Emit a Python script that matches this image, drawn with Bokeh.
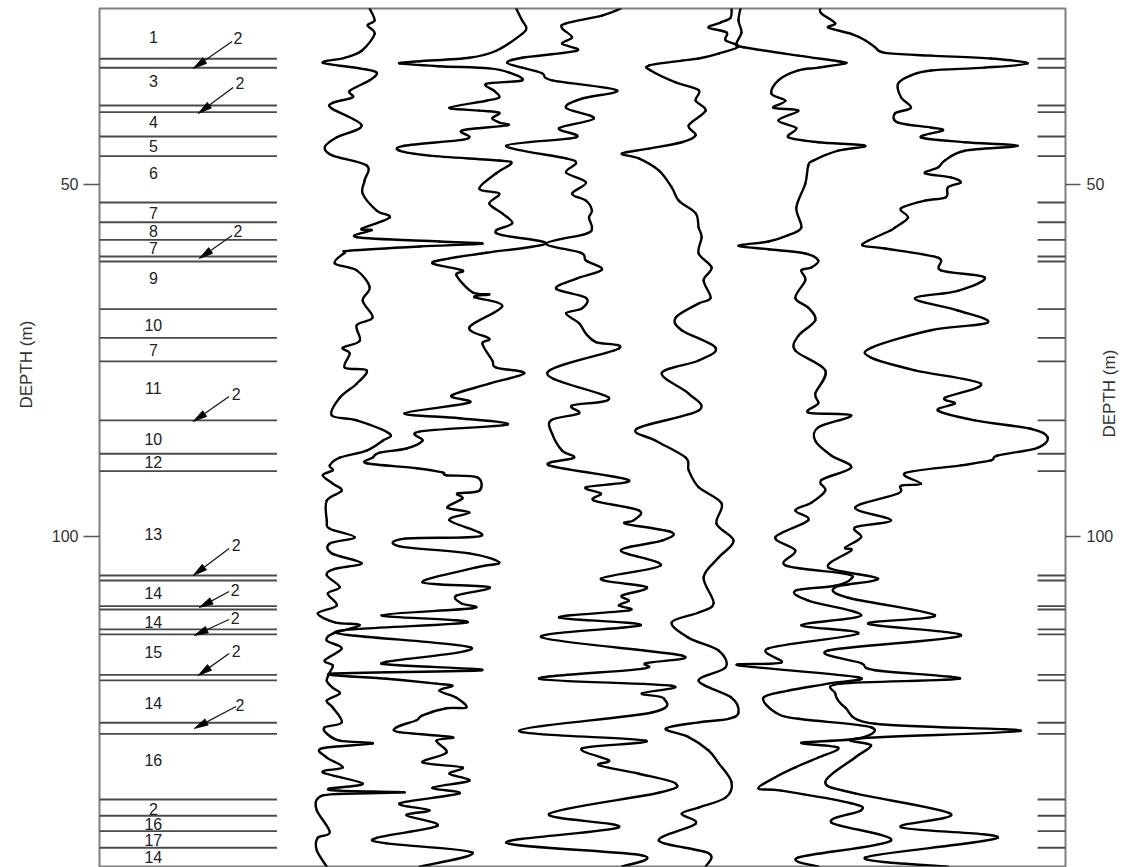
import math
from bokeh.plotting import figure
from bokeh.models import Range1d, LinearAxis, FixedTicker, Title
from bokeh.embed import file_html
from bokeh.resources import INLINE
from bokeh.core.properties import value

FONT = "Liberation Sans"

# ---------------- data ----------------
DEPTH_TOP = 25.0
DEPTH_BOTTOM = 146.88
TRACK_MIN, TRACK_MAX = 99, 1068

# log curves: (depth m, trace value)
CURVE_A = [(25.0,370),(26.7,375),(27.4,368),(28.6,375),(31.0,362),(32.0,345),(32.7,323),(33.5,360),(34.1,377),(35.2,370),
           (36.7,350),(37.6,353),(38.4,333),(39.2,332),(41.6,362),(43.3,337),(44.7,325),(45.9,333),(47.3,367),(49.4,365),
           (51.3,363),(53.7,377),(54.7,390),(56.3,362),(56.5,372),(57.5,357),(58.1,440),(58.4,483),(58.8,420),(59.4,350),
           (59.7,345),(61.2,335),(62.2,357),(64.6,370),(66.5,363),(68.9,373),(70.0,357),(72.2,360),(73.2,343),(74.0,350),
           (76.0,345),(76.4,367),(78.3,357),(80.3,340),(82.8,332),(83.5,357),(85.4,390),(86.4,383),(87.8,367),(88.8,340),
           (89.9,330),(90.6,333),(91.3,323),(92.5,333),(93.5,342),(94.9,327),(97.7,327),(98.9,330),(100.1,355),(101.0,330),
           (102.4,332),(103.8,362),(104.6,335),(105.5,327),(107.2,340),(108.1,328),(109.8,337),(110.9,318),(112.2,335),(112.6,360),
           (113.8,333),(114.8,327),(115.9,342),(117.6,325),(118.3,333),(119.3,330),(120.5,327),(121.5,333),(122.3,340),(123.3,327),
           (124.3,333),(126.4,342),(127.1,325),(128.0,327),(129.0,340),(129.4,373),(130.1,322),(131.4,327),(132.8,343),(133.5,323),
           (135.1,363),(135.8,330),(136.1,340),(136.35,405),(136.6,335),(137.2,318),(138.9,317),(142.0,330),(142.8,318),(144.6,317),
           (146.9,327)]

CURVE_B = [(25.0,517),(26.7,523),(27.7,527),(28.6,523),(31.0,497),(32.0,470),(32.5,420),(32.8,400),(33.2,440),(33.5,490),
           (34.1,510),(35.2,523),(35.7,487),(36.7,495),(37.6,500),(38.1,487),(39.1,450),(39.5,480),(39.8,500),(40.6,493),
           (41.2,500),(41.6,508),(42.3,463),(43.2,470),(43.7,460),(44.5,405),(45.2,400),(45.9,430),(46.6,500),(47.0,512),
           (48.4,497),(50.6,480),(51.3,500),(52.7,490),(54.1,503),(55.5,513),(56.5,497),(57.2,503),(58.4,547),(59.7,487),
           (60.5,450),(61.2,433),(62.2,463),(62.9,457),(65.3,473),(65.6,490),(66.0,475),(67.3,503),(70.3,470),(71.9,490),
           (72.6,483),(75.0,493),(76.0,497),(76.8,525),(78.3,490),(80.0,452),(81.0,470),(82.5,405),(83.2,460),(84.1,508),
           (85.1,420),(86.4,423),(87.5,407),(88.1,380),(88.8,373),(89.6,367),(90.3,417),(90.9,443),(91.3,447),(91.6,478),
           (93.5,480),(93.9,458),(94.6,463),(95.9,448),(96.6,470),(97.7,450),(99.9,482),(100.3,405),(101.4,400),(102.4,470),
           (103.7,500),(104.4,477),(106.5,423),(107.2,490),(108.4,457),(109.5,462),(110.2,473),(111.2,382),(112.2,468),(113.6,335),
           (115.8,472),(117.8,387),(118.3,400),(119.0,482),(119.5,331),(120.2,387),(120.9,437),(121.2,453),(121.9,440),(122.9,457),
           (124.3,467),(124.4,447),(125.4,423),(126.1,417),(127.1,397),(127.8,400),(128.5,453),(129.0,437),(130.7,447),(132.1,423),
           (132.8,463),(133.7,450),(134.7,470),(135.7,433),(136.5,460),(137.9,400),(138.9,430),(139.6,407),(141.1,438),(142.8,377),
           (143.6,387),(144.9,473),(146.9,420)]

CURVE_C = [(25.0,622),(26.0,603),(27.1,567),(27.8,563),(29.1,573),(30.0,563),(31.0,578),(32.0,523),(32.7,508),(33.4,523),
           (34.2,543),(35.2,553),(36.6,618),(37.8,583),(39.1,567),(40.6,595),(42.0,560),(43.3,577),(44.5,507),(46.3,567),
           (47.0,577),(48.3,567),(49.7,587),(51.3,573),(52.3,587),(53.7,593),(54.7,590),(56.1,593),(57.0,587),(58.4,547),
           (59.7,582),(60.8,587),(62.1,603),(63.4,577),(64.8,557),(66.1,587),(67.6,583),(68.3,567),(69.7,580),(71.2,587),
           (72.4,597),(73.3,620),(76.8,548),(80.3,610),(81.4,573),(82.5,580),(83.5,552),(85.4,553),(87.8,563),(88.8,575),
           (89.9,550),(92.0,630),(93.0,587),(93.9,602),(94.9,595),(96.3,640),(97.7,635),(98.2,627),(99.4,673),(100.6,663),
           (102.0,622),(104.1,662),(106.0,602),(107.2,648),(108.4,623),(109.1,630),(109.8,620),(110.5,630),(111.5,560),(112.6,642),
           (114.3,542),(116.9,683),(118.0,647),(118.8,643),(120.2,540),(121.2,673),(122.3,643),(123.0,665),(125.0,653),(127.6,520),
           (129.0,647),(130.1,583),(131.8,610),(132.5,600),(133.7,640),(135.1,677),(136.4,660),(139.4,550),(141.3,620),(143.5,507),
           (145.3,643),(146.9,623)]

CURVE_D = [(25.0,733),(26.3,732),(27.0,722),(27.7,710),(28.4,728),(29.5,727),(30.4,740),(31.4,720),(32.1,700),(32.4,683),
           (33.1,650),(33.8,652),(35.5,677),(36.6,700),(38.1,697),(39.5,707),(41.6,690),(43.0,697),(44.0,683),(44.9,650),
           (45.6,623),(46.3,640),(48.0,660),(50.4,673),(52.3,680),(54.1,697),(56.1,700),(57.5,703),(59.8,700),(61.8,713),
           (63.6,705),(66.1,712),(66.9,700),(68.9,677),(70.7,683),(73.2,717),(75.0,700),(76.8,663),(79.7,690),(82.1,700),
           (84.7,638),(86.4,657),(88.8,687),(90.6,690),(93.0,700),(95.3,723),(98.2,718),(100.6,735),(103.0,720),(105.8,705),
           (109.5,715),(110.8,700),(112.2,673),(114.4,690),(116.2,720),(118.6,727),(120.5,700),(122.9,733),(125.0,740),(125.9,730),
           (126.4,700),(127.3,667),(128.5,690),(130.4,710),(132.2,720),(134.9,733),(137.1,727),(138.5,700),(139.4,683),(140.8,697),
           (143.2,660),(145.0,710),(146.9,707)]

CURVE_E = [(25.0,742),(26.7,740),(28.4,743),(30.0,738),(30.5,745),(31.7,800),(32.5,840),(32.8,847),(33.4,820),(33.8,800),
           (35.2,780),(37.1,773),(38.1,787),(39.1,775),(39.5,800),(40.9,780),(42.0,798),(43.3,790),(44.0,820),(44.5,867),
           (45.2,840),(46.6,815),(47.3,810),(49.9,807),(53.3,798),(56.1,803),(57.2,790),(58.1,770),(58.7,740),(59.2,770),
           (59.8,807),(60.8,820),(61.8,813),(62.2,803),(63.6,807),(66.1,797),(67.5,810),(69.3,817),(71.5,800),(73.6,797),
           (76.4,827),(79.7,817),(81.1,820),(82.4,810),(82.8,853),(84.5,820),(86.4,817),(88.5,833),(90.2,853),(92.0,823),
           (93.5,827),(95.2,813),(96.3,797),(97.7,810),(100.1,777),(102.0,797),(104.1,787),(105.3,847),(106.0,853),(107.0,837),
           (107.7,797),(109.1,810),(111.2,863),(112.6,803),(113.8,860),(115.9,770),(117.9,783),(118.3,740),(120.0,860),(120.9,830),
           (121.9,790),(122.9,765),(125.0,777),(125.9,800),(127.1,873),(128.7,860),(129.3,803),(130.0,840),(131.4,820),(132.8,797),
           (134.2,777),(135.8,760),(136.1,783),(137.9,853),(138.9,863),(140.6,833),(143.2,893),(145.6,800),(146.9,820)]

CURVE_F = [(25.0,822),(25.7,823),(27.1,837),(27.7,830),(28.6,853),(29.5,867),(30.5,877),(31.3,887),(31.7,933),(32.1,993),
           (32.8,1030),(33.4,987),(33.8,933),(34.5,913),(35.7,900),(37.6,903),(39.1,913),(39.9,897),(41.2,900),(41.9,933),
           (42.3,945),(43.3,923),(44.0,967),(44.5,1020),(45.2,967),(46.6,947),(47.6,940),(48.4,927),(49.0,953),(49.7,963),
           (50.4,950),(51.8,948),(52.3,927),(53.4,903),(54.7,910),(56.1,897),(56.5,893),(58.0,870),(58.7,865),(59.1,887),
           (60.4,940),(62.2,943),(63.2,987),(65.1,960),(66.2,917),(67.9,960),(69.6,990),(70.7,933),(73.2,873),(74.6,873),
           (76.4,917),(78.3,983),(80.3,947),(81.1,957),(82.1,940),(83.5,977),(84.7,1033),(85.9,1050),(87.4,1040),(88.5,1000),
           (89.2,993),(89.9,963),(91.0,907),(92.5,923),(92.8,903),(93.9,900),(95.9,857),(97.7,893),(98.7,857),(100.1,863),
           (101.6,847),(102.0,853),(104.4,830),(106.0,880),(107.2,837),(108.7,850),(111.2,937),(112.4,870),(114.1,963),(116.2,830),
           (118.0,863),(119.0,877),(120.2,962),(120.9,843),(122.3,837),(124.3,847),(126.6,877),(127.6,1023),(128.7,860),(129.7,873),
           (131.4,857),(134.9,827),(136.5,857),(139.4,953),(141.3,903),(142.8,1000),(145.6,867),(146.9,950)]

# layer boundaries (depth, m)
BOUNDARY_DEPTHS = [32.14, 33.42, 38.78, 39.73, 43.18, 45.98, 52.56, 55.36, 57.86, 60.23, 60.94,
                   67.71, 71.78, 75.14, 83.52, 88.25, 90.72, 105.54, 106.25, 109.9, 110.37,
                   113.21, 113.92, 119.65, 120.45, 126.46, 128.03, 137.36, 139.67, 141.86, 144.22]

# layer labels
LAYER_NAMES = ["1", "3", "4", "5", "6", "7", "8", "7", "9", "10", "7", "11", "10", "12", "13",
               "14", "14", "15", "14", "16", "2", "16", "17", "14"]
LAYER_DEPTHS = [29.08, 35.23, 41.19, 44.56, 48.30, 53.98, 56.64, 59.09, 63.31, 69.93, 73.58, 78.88,
                86.12, 89.45, 99.62, 108.0, 112.18, 116.34, 123.68, 131.82, 138.68, 140.81, 143.18, 145.56]

# arrows marking layer "2"
ARROW_LABEL_X = [238, 240, 238, 236, 236, 235, 235, 236, 240]
ARROW_LABEL_DEPTH = [29.26, 35.65, 56.54, 79.69, 101.28, 107.67, 111.51, 116.20, 123.87]
ARROW_TAIL_X = [232, 233, 232, 229, 229, 229, 229, 229, 236]
ARROW_TAIL_DEPTH = [29.69, 36.22, 57.25, 80.12, 101.71, 107.82, 111.79, 116.62, 124.15]
ARROW_TIP_X = [193, 198, 199, 193, 193, 199, 194, 198, 194]
ARROW_TIP_DEPTH = [33.52, 39.92, 60.51, 83.67, 105.54, 110.09, 114.06, 119.75, 127.28]

DEPTH_TICKS = [50, 100]
AXIS_TITLE = "DEPTH (m)"

# ---------------- figure ----------------
W, H = 1131, 867
ML, MR, MT, MB = 99, 63, 8, 1
FRAME_W = W - ML - MR
FRAME_H = H - MT - MB
PX_PER_M = FRAME_H / (DEPTH_BOTTOM - DEPTH_TOP)
PX_PER_X = FRAME_W / (TRACK_MAX - TRACK_MIN)

p = figure(width=W, height=H, output_backend="svg", toolbar_location=None,
           x_range=Range1d(TRACK_MIN, TRACK_MAX), y_range=Range1d(DEPTH_BOTTOM, DEPTH_TOP),
           x_axis_location=None, y_axis_location="left",
           min_border_left=ML, min_border_right=MR, min_border_top=MT, min_border_bottom=MB)
p.grid.visible = False
p.outline_line_color = "#7f7f7f"
p.outline_line_width = 2
p.background_fill_color = "white"
p.border_fill_color = "white"


def style_axis(ax, out, standoff):
    ax.ticker = FixedTicker(ticks=DEPTH_TICKS)
    ax.axis_line_color = None
    ax.major_tick_line_color = "#555555"
    ax.major_tick_line_width = 1.5
    ax.major_tick_out = out
    ax.major_tick_in = 0
    ax.minor_tick_line_color = None
    ax.major_label_text_font = FONT
    ax.major_label_text_font_size = "16px"
    ax.major_label_text_color = "#333333"
    ax.major_label_standoff = standoff


style_axis(p.yaxis[0], 16, 5)
right_axis = LinearAxis()
style_axis(right_axis, 15, 6)
right_axis.axis_label = AXIS_TITLE
right_axis.axis_label_text_font = FONT
right_axis.axis_label_text_font_size = "17px"
right_axis.axis_label_text_font_style = "normal"
right_axis.axis_label_text_color = "#333333"
right_axis.axis_label_standoff = -7
if "axis_label_orientation" in right_axis.properties():
    right_axis.axis_label_orientation = math.pi / 2
p.add_layout(right_axis, "right")

# left axis title, placed above the frame centre as in the source figure
p.add_layout(Title(text=AXIS_TITLE, align="left", offset=458, standoff=22, vertical_align="top",
                   text_font=FONT, text_font_size="17px", text_font_style="normal",
                   text_color="#333333"), "left")

# boundary lines: left description column and short marks on right edge
n = len(BOUNDARY_DEPTHS)
p.segment(x0=[TRACK_MIN] * n, x1=[277] * n, y0=BOUNDARY_DEPTHS, y1=BOUNDARY_DEPTHS,
          line_color="#4a4a4a", line_width=1.8)
p.segment(x0=[1040] * n, x1=[TRACK_MAX] * n, y0=BOUNDARY_DEPTHS, y1=BOUNDARY_DEPTHS,
          line_color="#4a4a4a", line_width=1.8)

# log curves, drawn as smooth cubic pieces through the read points
for curve in (CURVE_A, CURVE_B, CURVE_C, CURVE_D, CURVE_E, CURVE_F):
    ds = [c[0] for c in curve]
    xs = [c[1] for c in curve]
    m = len(xs)
    x0, y0, x1, y1, cx0, cy0, cx1, cy1 = [], [], [], [], [], [], [], []
    for i in range(m - 1):
        ip, inx = max(i - 1, 0), min(i + 2, m - 1)
        x0.append(xs[i]); y0.append(ds[i])
        x1.append(xs[i + 1]); y1.append(ds[i + 1])
        cx0.append(xs[i] + (xs[i + 1] - xs[ip]) / 6.0)
        cy0.append(ds[i] + (ds[i + 1] - ds[ip]) / 6.0)
        cx1.append(xs[i + 1] - (xs[inx] - xs[i]) / 6.0)
        cy1.append(ds[i + 1] - (ds[inx] - ds[i]) / 6.0)
    p.bezier(x0=x0, y0=y0, x1=x1, y1=y1, cx0=cx0, cy0=cy0, cx1=cx1, cy1=cy1,
             line_color="black", line_width=2.4, line_cap="round")

# layer labels
p.text(x=[153] * len(LAYER_NAMES), y=LAYER_DEPTHS, text=LAYER_NAMES,
       text_align="center", text_baseline="middle", text_font=value(FONT),
       text_font_size="16px", text_color="#222222")

# arrows
HEAD_L, HEAD_HW = 14.0, 3.5
shaft_x0, shaft_x1, shaft_y0, shaft_y1 = [], [], [], []
head_xs, head_ys = [], []
for tx, td, hx, hd in zip(ARROW_TAIL_X, ARROW_TAIL_DEPTH, ARROW_TIP_X, ARROW_TIP_DEPTH):
    dx = (hx - tx) * PX_PER_X
    dy = (hd - td) * PX_PER_M
    L = math.hypot(dx, dy)
    ux, uy = dx / L, dy / L
    bx, by = -HEAD_L * ux, -HEAD_L * uy
    px_, py_ = -uy * HEAD_HW, ux * HEAD_HW
    pts = [(0, 0), (bx + px_, by + py_), (bx - px_, by - py_)]
    head_xs.append([hx + a / PX_PER_X for a, b in pts])
    head_ys.append([hd + b / PX_PER_M for a, b in pts])
    shaft_x0.append(tx)
    shaft_y0.append(td)
    shaft_x1.append(hx + (bx * 0.6) / PX_PER_X)
    shaft_y1.append(hd + (by * 0.6) / PX_PER_M)

p.segment(x0=shaft_x0, y0=shaft_y0, x1=shaft_x1, y1=shaft_y1, line_color="#1a1a1a", line_width=1.3)
p.patches(xs=head_xs, ys=head_ys, fill_color="black", line_color="black", line_width=0.8)
p.text(x=ARROW_LABEL_X, y=ARROW_LABEL_DEPTH, text=["2"] * len(ARROW_LABEL_X),
       text_align="center", text_baseline="middle", text_font=value(FONT),
       text_font_size="16px", text_color="#222222")

open("out.html", "w").write(file_html(p, INLINE))
